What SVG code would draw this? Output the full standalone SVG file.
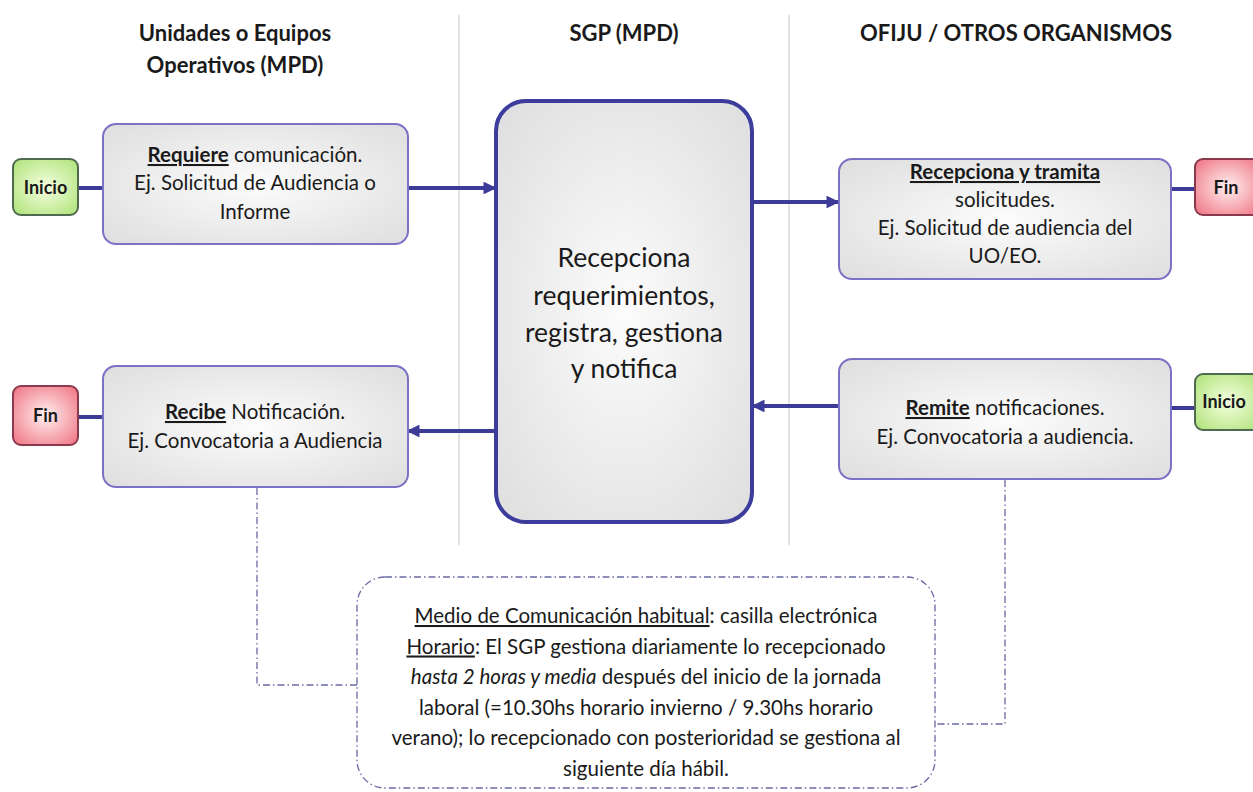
<svg xmlns="http://www.w3.org/2000/svg" width="1253" height="792" viewBox="0 0 1253 792">
<style>
.hdr{font-family:Lato,"Noto Sans",sans-serif;font-weight:bold;font-size:22px;fill:#1a1a1a;text-anchor:middle}
.t{font-family:Lato,"Noto Sans",sans-serif;font-size:20.5px;fill:#1a1a1a;text-anchor:middle}
.tc{font-family:Lato,"Noto Sans",sans-serif;font-size:26.5px;fill:#1a1a1a;text-anchor:middle}
.tb{font-family:Lato,"Noto Sans",sans-serif;font-size:20.5px;fill:#1a1a1a;text-anchor:middle}
.term{font-family:Lato,"Noto Sans",sans-serif;font-weight:bold;font-size:18px;fill:#1a1a1a;text-anchor:middle}
.box{fill:url(#gGray);stroke:#7a72c4;stroke-width:2}
.sep{stroke:#c4c4c4;stroke-width:1}
.con{stroke:#3c3c98;stroke-width:4;fill:none}
.dd{stroke:#6a6aa4;stroke-width:1.3;fill:none;stroke-dasharray:7 3 1.5 3}
</style>
<defs>
<radialGradient id="gGray" cx="50%" cy="50%" r="65%">
<stop offset="0" stop-color="#fcfcfc"/><stop offset="1" stop-color="#e0e0e0"/>
</radialGradient>
<radialGradient id="gGreen" cx="50%" cy="50%" r="65%">
<stop offset="0" stop-color="#f6ffe0"/><stop offset="1" stop-color="#b2e47e"/>
</radialGradient>
<radialGradient id="gRed" cx="50%" cy="50%" r="65%">
<stop offset="0" stop-color="#fff0f0"/><stop offset="1" stop-color="#f07a88"/>
</radialGradient>
<marker id="arr" viewBox="0 0 10 10" refX="9" refY="5" markerWidth="3.2" markerHeight="3.2" orient="auto" markerUnits="strokeWidth">
<path d="M0,0 L10,5 L0,10 z" fill="#3c3c98"/>
</marker>
</defs>
<rect width="1253" height="792" fill="#ffffff"/>

<g id="headers">
<text class="hdr" x="235" y="41">Unidades o Equipos</text>
<text class="hdr" x="235" y="73">Operativos (MPD)</text>
<text class="hdr" x="624" y="41">SGP (MPD)</text>
<text class="hdr" x="1016" y="41">OFIJU / OTROS ORGANISMOS</text>
</g>
<g id="separators">
<line class="sep" x1="459" y1="15" x2="459" y2="545"/>
<line class="sep" x1="789" y1="15" x2="789" y2="545"/>
</g>

<g id="connectors">
<line class="con" x1="78" y1="188" x2="103" y2="188"/>
<line class="con" x1="408" y1="188" x2="495" y2="188" marker-end="url(#arr)"/>
<line class="con" x1="752" y1="202" x2="838" y2="202" marker-end="url(#arr)"/>
<line class="con" x1="1171" y1="189" x2="1195" y2="189"/>
<line class="con" x1="1195" y1="408" x2="1171" y2="408"/>
<line class="con" x1="838" y1="406" x2="753" y2="406" marker-end="url(#arr)"/>
<line class="con" x1="495" y1="431" x2="408" y2="431" marker-end="url(#arr)"/>
<line class="con" x1="103" y1="417" x2="78" y2="417"/>
<polyline class="dd" points="257,488 257,685 357,685"/>
<polyline class="dd" points="1005,480 1005,724 935,724"/>
</g>

<g id="inicio-left">
<rect x="13" y="159" width="65" height="56" rx="8" fill="url(#gGreen)" stroke="#4f6a4f" stroke-width="2"/>
<text class="term" x="45.5" y="194">Inicio</text>
</g>
<g id="box-requiere">
<rect class="box" x="103" y="124" width="305" height="120" rx="13"/>
<text class="t" x="255" y="162"><tspan text-decoration="underline" font-weight="bold">Requiere</tspan> comunicación.</text>
<text class="t" x="255" y="190">Ej. Solicitud de Audiencia o</text>
<text class="t" x="255" y="219">Informe</text>
</g>
<g id="box-center">
<rect x="496" y="101" width="256" height="421" rx="30" fill="url(#gGray)" stroke="#3c3c9c" stroke-width="4"/>
<text class="tc" x="624" y="267">Recepciona</text>
<text class="tc" x="624" y="305">requerimientos,</text>
<text class="tc" x="624" y="342">registra, gestiona</text>
<text class="tc" x="624" y="378">y notifica</text>
</g>
<g id="box-recepciona">
<rect class="box" x="839" y="159" width="332" height="120" rx="13"/>
<text class="t" x="1005" y="179"><tspan text-decoration="underline" font-weight="bold">Recepciona y tramita</tspan></text>
<text class="t" x="1005" y="207">solicitudes.</text>
<text class="t" x="1005" y="235">Ej. Solicitud de audiencia del</text>
<text class="t" x="1005" y="263">UO/EO.</text>
</g>
<g id="fin-right">
<rect x="1195" y="159" width="66" height="56" rx="8" fill="url(#gRed)" stroke="#8a3a4c" stroke-width="2"/>
<text class="term" x="1226" y="194">Fin</text>
</g>
<g id="box-remite">
<rect class="box" x="839" y="359" width="332" height="120" rx="13"/>
<text class="t" x="1005" y="415"><tspan text-decoration="underline" font-weight="bold">Remite</tspan> notificaciones.</text>
<text class="t" x="1005" y="444">Ej. Convocatoria a audiencia.</text>
</g>
<g id="inicio-right">
<rect x="1195" y="374" width="66" height="56" rx="8" fill="url(#gGreen)" stroke="#4f6a4f" stroke-width="2"/>
<text class="term" x="1224" y="408">Inicio</text>
</g>
<g id="box-recibe">
<rect class="box" x="103" y="366" width="305" height="121" rx="13"/>
<text class="t" x="255" y="419"><tspan text-decoration="underline" font-weight="bold">Recibe</tspan> Notificación.</text>
<text class="t" x="255" y="448">Ej. Convocatoria a Audiencia</text>
</g>
<g id="fin-left">
<rect x="13" y="386" width="65" height="59" rx="8" fill="url(#gRed)" stroke="#8a3a4c" stroke-width="2"/>
<text class="term" x="45.5" y="422">Fin</text>
</g>
<g id="note">
<rect class="dd" x="357" y="577" width="578" height="211" rx="28"/>
<text class="tb" x="646" y="623"><tspan text-decoration="underline">Medio de Comunicación habitual</tspan>: casilla electrónica</text>
<text class="tb" x="646" y="653.5"><tspan text-decoration="underline">Horario</tspan>: El SGP gestiona diariamente lo recepcionado</text>
<text class="tb" x="646" y="684"><tspan font-style="italic">hasta 2 horas y media</tspan> después del inicio de la jornada</text>
<text class="tb" x="646" y="714.5">laboral (=10.30hs horario invierno / 9.30hs horario</text>
<text class="tb" x="646" y="745">verano); lo recepcionado con posterioridad se gestiona al</text>
<text class="tb" x="646" y="775.5">siguiente día hábil.</text>
</g>
</svg>
